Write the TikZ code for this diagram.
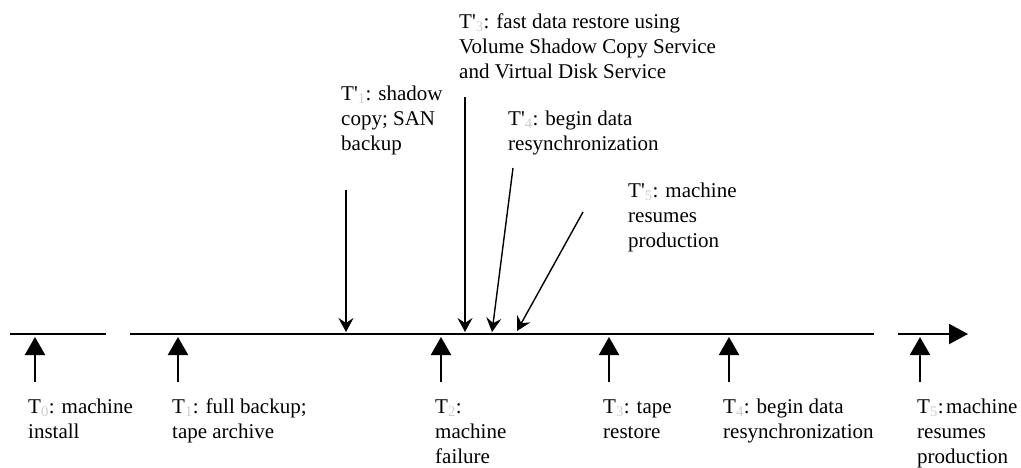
\documentclass[tikz,border=0pt]{standalone}
\usepackage{fontspec}
\setmainfont{Liberation Serif}
\usetikzlibrary{arrows.meta}
\definecolor{subgray}{RGB}{205,205,205}
\newcommand{\Tn}[1]{T\textsubscript{\color{subgray}#1}}
\newcommand{\Tp}[1]{T\textquotesingle\textsubscript{\color{subgray}#1}}
\begin{document}
\begin{tikzpicture}[x=1pt,y=-1pt,
  lbl/.style={anchor=base west,inner sep=0pt,align=left,
    font=\fontsize{21}{25}\selectfont},
  timeline/.style={line width=2pt},
  uparrow/.style={line width=2pt,-{Triangle[length=18pt,width=20pt]}},
  downarrow/.style={line width=2pt,-{Stealth[length=14pt,width=15pt,inset=5pt]}},
  slantarrow/.style={line width=1.4pt,-{Stealth[length=14pt,width=15pt,inset=5pt]}}]
\useasboundingbox (0,0) rectangle (1021,467);

% timeline, broken into three pieces
\coordinate (a0) at (10,334);  \coordinate (a1) at (106,334);
\coordinate (b0) at (130,334); \coordinate (b1) at (874,334);
\coordinate (c0) at (898,334); \coordinate (c1) at (968,334);
\draw[timeline] (a0) -- (a1);
\draw[timeline] (b0) -- (b1);
\draw[timeline,-{Triangle[length=19pt,width=20pt]}] (c0) -- (c1);

% lower events (labels placed by the baseline of their last line)
\foreach \n/\x in {0/35,1/178,2/441,3/609,4/729,5/920}{
  \coordinate (u\n) at (\x,382);
  \coordinate (ut\n) at (\x,337);
  \draw[uparrow] (u\n) -- (ut\n);
}
\node[lbl] (t0) at (28,438)  {\Tn{0}: machine\\install};
\node[lbl] (t1) at (172,438) {\Tn{1}: full backup;\\tape archive};
\node[lbl] (t2) at (435,463) {\Tn{2}:\\machine\\failure};
\node[lbl] (t3) at (603,438) {\Tn{3}: tape\\restore};
\node[lbl] (t4) at (723,438) {\Tn{4}: begin data\\resynchronization};
\node[lbl] (t5) at (917,463) {\Tn{5}:\hspace{0.12em}machine\\resumes\\production};

% upper events
\node[lbl] (p1) at (341,150) {\Tp{1}: shadow\\copy; SAN\\backup};
\node[lbl] (p3) at (459,78)  {\Tp{3}: fast data restore using\\Volume Shadow Copy Service\\and Virtual Disk Service};
\node[lbl] (p4) at (508,150) {\Tp{4}: begin data\\resynchronization};
\node[lbl] (p5) at (628,247) {\Tp{5}: machine\\resumes\\production};

\coordinate (d1) at (346,190); \coordinate (dt1) at (346,332);
\coordinate (d3) at (465,97);  \coordinate (dt3) at (465,332);
\coordinate (d4) at (513,168); \coordinate (dt4) at (492,332);
\coordinate (d5) at (583,212); \coordinate (dt5) at (517,331);
\draw[downarrow] (d1) -- (dt1);
\draw[downarrow] (d3) -- (dt3);
\draw[slantarrow] (d4) -- (dt4);
\draw[slantarrow] (d5) -- (dt5);
\end{tikzpicture}
\end{document}
